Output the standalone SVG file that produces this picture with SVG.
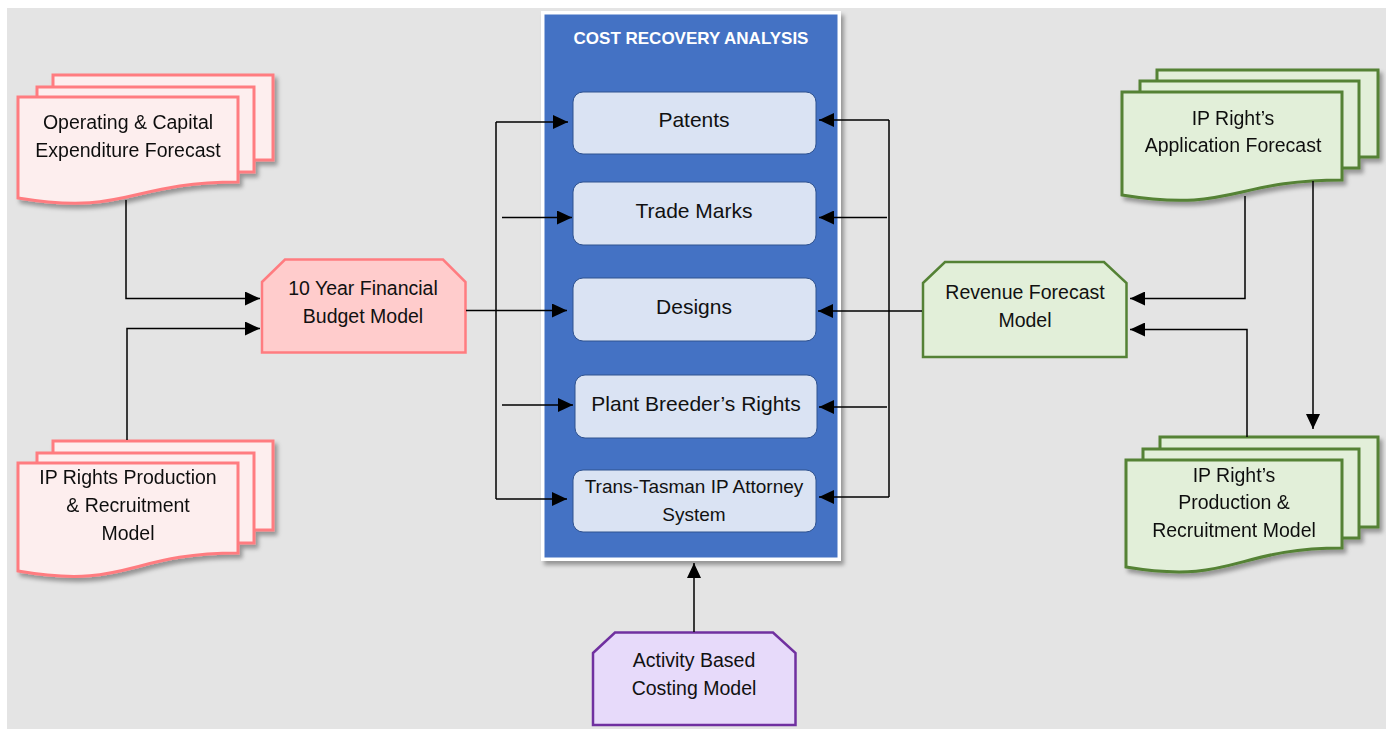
<svg xmlns="http://www.w3.org/2000/svg" width="1386" height="729" viewBox="0 0 1386 729">
  <defs>
    <style>
      .lbl { font-family: "Liberation Sans", Arial, sans-serif; font-size: 19.5px; fill: #111; text-anchor: middle; }
      .sys { font-family: "Liberation Sans", Arial, sans-serif; font-size: 21px; fill: #111; text-anchor: middle; }
      .title { font-family: "Liberation Sans", Arial, sans-serif; font-size: 17px; font-weight: bold; fill: #fff; text-anchor: middle; }
      .pink { fill: #fdeeee; stroke: #ff7c80; stroke-width: 3; }
      .green { fill: #e2efd9; stroke: #548235; stroke-width: 3; }
      .sysbox { fill: #dae3f3; stroke: #2f528f; stroke-width: 1; }
      .wire { fill: none; stroke: #000; stroke-width: 1.5; }
    </style>
    <filter id="shadow" x="-10%" y="-10%" width="130%" height="130%">
      <feDropShadow dx="3" dy="4" stdDeviation="2" flood-color="#000" flood-opacity="0.35"/>
    </filter>
    <marker id="arrow" markerUnits="userSpaceOnUse" markerWidth="16" markerHeight="14" refX="15" refY="7" orient="auto">
      <path d="M0,0 L15,7 L0,14 Z" fill="#000"/>
    </marker>
  </defs>

  <!-- backdrop -->
  <rect x="7" y="8" width="1379" height="721" fill="#e4e4e4"/>

  <!-- central panel -->
  <g id="cost-recovery-analysis">
    <rect x="541" y="11" width="300" height="550" fill="#ffffff" filter="url(#shadow)"/>
    <rect x="544.5" y="14.5" width="293" height="543" fill="#4472c4"/>
    <text class="title" x="691" y="44">COST RECOVERY ANALYSIS</text>
  </g>

  <g id="patents">
    <rect class="sysbox" x="573" y="92" width="243" height="62" rx="10"/>
    <text class="sys" x="694" y="127">Patents</text>
  </g>
  <g id="trade-marks">
    <rect class="sysbox" x="573" y="182" width="243" height="63" rx="10"/>
    <text class="sys" x="694" y="218">Trade Marks</text>
  </g>
  <g id="designs">
    <rect class="sysbox" x="573" y="278" width="243" height="63" rx="10"/>
    <text class="sys" x="694" y="314">Designs</text>
  </g>
  <g id="plant-breeders-rights">
    <rect class="sysbox" x="575" y="375" width="242" height="63" rx="10"/>
    <text class="sys" x="696" y="411">Plant Breeder’s Rights</text>
  </g>
  <g id="trans-tasman">
    <rect class="sysbox" x="573" y="470" width="243" height="62" rx="10"/>
    <text class="sys" x="694" y="493" style="font-size:19px">Trans-Tasman IP Attorney</text>
    <text class="sys" x="694" y="521" style="font-size:19px">System</text>
  </g>

  <!-- multi-page documents -->
  <g id="opex-capex-forecast" filter="url(#shadow)">
    <rect class="pink" x="53" y="75" width="220" height="85"/>
    <rect class="pink" x="37" y="87" width="217" height="85"/>
    <path class="pink" d="M18,97 H238 V182 C128,182 128,216 18,198 Z"/>
    <text class="lbl" x="128" y="129">Operating &amp; Capital</text>
    <text class="lbl" x="128" y="157">Expenditure Forecast</text>
  </g>

  <g id="ip-rights-production-left" filter="url(#shadow)">
    <rect class="pink" x="53" y="441" width="220" height="89"/>
    <rect class="pink" x="37" y="453" width="217" height="90"/>
    <path class="pink" d="M18,463 H238 V553 C128,553 128,590 18,571 Z"/>
    <text class="lbl" x="128" y="484">IP Rights Production</text>
    <text class="lbl" x="128" y="512">&amp; Recruitment</text>
    <text class="lbl" x="128" y="540">Model</text>
  </g>

  <g id="application-forecast" filter="url(#shadow)">
    <rect class="green" x="1157" y="70" width="221" height="87"/>
    <rect class="green" x="1140" y="81" width="219" height="87"/>
    <path class="green" d="M1122,92 H1342 V180 C1232,180 1232,213 1122,195 Z"/>
    <text class="lbl" x="1233" y="125">IP Right’s</text>
    <text class="lbl" x="1233" y="152">Application Forecast</text>
  </g>

  <g id="production-recruitment-right" filter="url(#shadow)">
    <rect class="green" x="1160" y="437" width="218" height="90"/>
    <rect class="green" x="1143" y="449" width="216" height="89"/>
    <path class="green" d="M1126,460 H1342 V548 C1234,548 1234,585 1126,567 Z"/>
    <text class="lbl" x="1234" y="482">IP Right’s</text>
    <text class="lbl" x="1234" y="509">Production &amp;</text>
    <text class="lbl" x="1234" y="537">Recruitment Model</text>
  </g>

  <!-- snipped-corner models -->
  <g id="financial-budget-model">
    <path d="M262,282 L285,259.5 H443 L465.5,282 V352.5 H262 Z" fill="#ffcccc" stroke="#ff7c80" stroke-width="2.5"/>
    <text class="lbl" x="363" y="295">10 Year Financial</text>
    <text class="lbl" x="363" y="323">Budget Model</text>
  </g>

  <g id="revenue-forecast-model">
    <path d="M923,283 L945,262 H1104 L1126.5,283 V357 H923 Z" fill="#e2efd9" stroke="#548235" stroke-width="2.5"/>
    <text class="lbl" x="1025" y="299">Revenue Forecast</text>
    <text class="lbl" x="1025" y="327">Model</text>
  </g>

  <g id="activity-based-costing">
    <path d="M593,653 L615,632.5 H773 L795.5,653 V725 H593 Z" fill="#e7dafa" stroke="#7030a0" stroke-width="2.5"/>
    <text class="lbl" x="694" y="667">Activity Based</text>
    <text class="lbl" x="694" y="695">Costing Model</text>
  </g>

  <!-- connectors -->
  <g id="connectors" class="wire">
    <!-- inputs to the budget model -->
    <path d="M126,200 V298.5 H260" marker-end="url(#arrow)"/>
    <path d="M127,440 V328.5 H260" marker-end="url(#arrow)"/>
    <!-- budget model to each cost system -->
    <path d="M466,310.5 H567" marker-end="url(#arrow)"/>
    <path d="M496,122 V499"/>
    <path d="M496,122 H568" marker-end="url(#arrow)"/>
    <path d="M502,217.5 H572" marker-end="url(#arrow)"/>
    <path d="M502,405 H573" marker-end="url(#arrow)"/>
    <path d="M496,499 H567" marker-end="url(#arrow)"/>
    <!-- revenue model to each cost system -->
    <path d="M922,311 H818" marker-end="url(#arrow)"/>
    <path d="M889,120 V497"/>
    <path d="M889,120 H819" marker-end="url(#arrow)"/>
    <path d="M887,217.5 H819" marker-end="url(#arrow)"/>
    <path d="M887,407 H819" marker-end="url(#arrow)"/>
    <path d="M889,497 H819" marker-end="url(#arrow)"/>
    <!-- inputs to the revenue model -->
    <path d="M1245,196 V298.5 H1130" marker-end="url(#arrow)"/>
    <path d="M1247,437 V329.5 H1130" marker-end="url(#arrow)"/>
    <path d="M1313,181 V429" marker-end="url(#arrow)"/>
    <!-- activity costing into the panel -->
    <path d="M694,632 V563" marker-end="url(#arrow)"/>
  </g>
</svg>
